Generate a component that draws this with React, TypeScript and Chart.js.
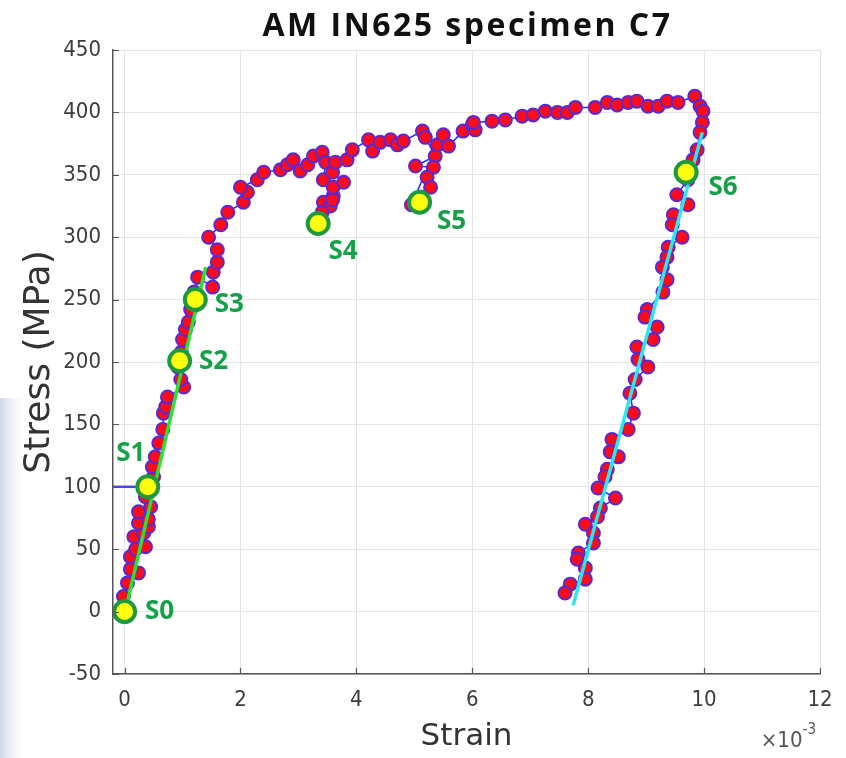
import React, { useEffect, useRef } from 'react';
import { Chart, registerables } from 'chart.js';

Chart.register(...registerables);

// Main measured curve (strain in 10^-3, stress in MPa), in path order
const strain = [
  0.0, -0.02, 0.05, 0.24, 0.1, 0.1, 0.19, 0.36, 0.16, 0.33, 0.41, 0.24, 0.41, 0.24, 0.45, 0.36, 0.42, 0.5, 0.48, 0.53,
  0.59, 0.66, 0.67, 0.71, 0.74, 1.02, 0.97, 0.92, 0.98, 1.0, 1.05, 1.1, 1.14, 1.2, 1.26, 1.52, 1.53, 1.6, 1.6, 1.45,
  1.66, 1.78, 2.05, 2.12, 2.0, 2.29, 2.4, 2.69, 2.81, 2.91, 3.03, 3.16, 3.26, 3.41, 3.47, 3.43, 3.6, 3.43, 3.55, 3.41,
  3.38, 3.59, 3.6, 3.78, 3.59, 3.64, 3.84, 3.93, 4.21, 4.28, 4.41, 4.59, 4.71, 4.81, 5.14, 5.19, 5.36, 5.02, 5.33, 5.22,
  5.28, 5.12, 4.95, 5.4, 5.5, 5.59, 5.84, 6.0, 6.05, 6.02, 6.34, 6.57, 6.86, 7.05, 7.26, 7.47, 7.64, 7.78, 8.12, 8.33,
  8.5, 8.69, 8.84, 9.03, 9.21, 9.36, 9.55, 9.84, 9.93, 9.98, 9.97, 9.93, 9.88, 9.81, 9.72, 9.53, 9.72, 9.47, 9.45, 9.62,
  9.38, 9.36, 9.28, 9.36, 9.29, 9.02, 8.98, 9.19, 9.12, 8.84, 8.86, 9.03, 8.81, 8.72, 8.78, 8.69, 8.41, 8.38, 8.52, 8.33,
  8.29, 8.17, 8.47, 8.21, 8.16, 7.95, 8.09, 8.09, 7.83, 7.81, 7.95, 7.95, 7.69, 7.6,
];
const stress = [
  0, 12, 23, 31, 34, 44, 50, 52, 60, 63, 68, 71, 74, 80, 84, 92, 100, 108, 116, 124,
  135, 146, 159, 164, 172, 180, 186, 196, 208, 218, 226, 232, 242, 256, 268, 260, 272, 280, 290, 300,
  310, 320, 328, 336, 340, 346, 352, 354, 358, 362, 353, 358, 365, 368, 360, 346, 333, 328, 325, 320,
  314, 330, 340, 344, 352, 360, 362, 370, 378, 369, 376, 378, 374, 377, 385, 380, 365, 357, 356, 348,
  340, 332, 326, 374, 382, 373, 385, 390, 386, 392, 393, 394, 397, 398, 401, 400, 400, 404, 404, 408,
  406, 408, 409, 405, 405, 409, 408, 413, 405, 401, 392, 384, 370, 362, 346, 334, 326, 318, 310, 300,
  292, 284, 276, 266, 256, 242, 236, 228, 218, 212, 202, 196, 186, 175, 159, 146, 138, 128, 124, 114,
  108, 99, 91, 83, 76, 70, 63, 55, 47, 42, 35, 26, 22, 15,
];

// Labelled states
const markerLabels = ['S0', 'S1', 'S2', 'S3', 'S4', 'S5', 'S6'];
const markerStrain = [0.0, 0.4, 0.95, 1.22, 3.34, 5.09, 9.69];
const markerStress = [0, 100, 201, 250, 311, 328, 352];

// Elastic loading fit (green) and unloading fit (cyan)
const fitStrain = [0.02, 1.4];
const fitStress = [2, 276];
const unloadStrain = [7.74, 9.97];
const unloadStress = [5, 384];

// Short horizontal reference at S1
const refStrain = [-0.2, 0.3];
const refStress = [100, 100];

// Axis ticks
const xTicks = [0, 2, 4, 6, 8, 10, 12];
const yTicks = [-50, 0, 50, 100, 150, 200, 250, 300, 350, 400, 450];

// Label placement relative to each marker (px)
const labelOffsets = [
  [35, 0], [-17, -33], [34, 1], [34, 5], [25, 28], [32, 19], [37, 15],
];

const toPts = (xs: number[], ys: number[]) => xs.map((x, i) => ({ x, y: ys[i] }));

const TICK_FONT = "'DejaVu Sans Condensed', 'Liberation Sans Narrow', 'DejaVu Sans', sans-serif";

export default function App() {
  const ref = useRef<HTMLCanvasElement | null>(null);

  useEffect(() => {
    document.body.style.margin = '0';
    const canvas = ref.current;
    if (!canvas) return;

    const decor = {
      id: 'decor',
      beforeDraw(chart: any) {
        const ctx = chart.ctx;
        ctx.save();
        const g = ctx.createLinearGradient(0, 0, 28, 0);
        g.addColorStop(0, 'rgba(205,213,228,1)');
        g.addColorStop(1, 'rgba(255,255,255,0)');
        ctx.fillStyle = g;
        ctx.fillRect(0, 398, 28, 360);
        ctx.restore();
      },
      afterDatasetsDraw(chart: any) {
        const ctx = chart.ctx;
        const xs = chart.scales.x;
        const ys = chart.scales.y;
        ctx.save();
        ctx.fillStyle = '#17a04a';
        ctx.font = "bold 26px 'Open Sans', 'Noto Sans', sans-serif";
        ctx.textAlign = 'center';
        ctx.textBaseline = 'middle';
        markerLabels.forEach((lab, i) => {
          const px = xs.getPixelForValue(markerStrain[i]) + labelOffsets[i][0];
          const py = ys.getPixelForValue(markerStress[i]) + labelOffsets[i][1];
          ctx.fillText(lab, px, py);
        });
        ctx.restore();
      },
      afterDraw(chart: any) {
        const ctx = chart.ctx;
        const a = chart.chartArea;
        const xs = chart.scales.x;
        const ys = chart.scales.y;
        ctx.save();
        // inward tick marks
        ctx.strokeStyle = '#555';
        ctx.lineWidth = 1.2;
        ctx.beginPath();
        xTicks.forEach((v) => {
          const px = Math.round(xs.getPixelForValue(v)) + 0.5;
          ctx.moveTo(px, a.bottom);
          ctx.lineTo(px, a.bottom - 6);
        });
        yTicks.forEach((v) => {
          const py = Math.round(ys.getPixelForValue(v)) + 0.5;
          ctx.moveTo(a.left, py);
          ctx.lineTo(a.left + 6, py);
        });
        ctx.stroke();

        ctx.fillStyle = '#111';
        ctx.font = "bold 32px 'Open Sans', 'DejaVu Sans', sans-serif";
        try { (ctx as any).letterSpacing = '2.5px'; } catch (e) { /* ignore */ }
        ctx.textAlign = 'center';
        ctx.textBaseline = 'middle';
        ctx.fillText('AM IN625 specimen C7', (a.left + a.right) / 2 + 1, 27);
        try { (ctx as any).letterSpacing = '0px'; } catch (e) { /* ignore */ }
        // exponent label
        ctx.fillStyle = '#555';
        ctx.textAlign = 'right';
        ctx.textBaseline = 'alphabetic';
        ctx.font = `15px ${TICK_FONT}`;
        ctx.fillText('-3', a.right - 4, 734);
        const w = ctx.measureText('-3').width;
        ctx.font = `22px ${TICK_FONT}`;
        ctx.fillText('×10', a.right - 4 - w, 747);
        ctx.restore();
      },
    };

    const chart = new Chart(canvas, {
      type: 'scatter',
      data: {
        datasets: [
          {
            label: 'S markers',
            data: toPts(markerStrain, markerStress),
            pointRadius: 10.5,
            pointBackgroundColor: '#ffff10',
            pointBorderColor: '#1e9a3c',
            pointBorderWidth: 4,
            showLine: false,
            order: 0,
          },
          {
            label: 'unload fit',
            data: toPts(unloadStrain, unloadStress),
            showLine: true,
            borderColor: '#2ee6ee',
            borderWidth: 3.5,
            pointRadius: 0,
            order: 1,
          },
          {
            label: 'elastic fit',
            data: toPts(fitStrain, fitStress),
            showLine: true,
            borderColor: '#2ee02e',
            borderWidth: 3.5,
            pointRadius: 0,
            order: 2,
          },
          {
            label: 'ref',
            data: toPts(refStrain, refStress),
            showLine: true,
            borderColor: '#4a4ae0',
            borderWidth: 2.5,
            pointRadius: 0,
            order: 3,
          },
          {
            label: 'measured',
            data: toPts(strain, stress),
            showLine: true,
            borderColor: '#2a2aff',
            borderWidth: 1.5,
            pointRadius: 6.5,
            pointBackgroundColor: '#ff0a1a',
            pointBorderColor: '#5a2ad0',
            pointBorderWidth: 2,
            order: 4,
          },
        ],
      },
      options: {
        responsive: false,
        animation: false,
        layout: { padding: { top: 50, right: 26, left: 0, bottom: 0 } },
        plugins: {
          legend: { display: false },
          tooltip: { enabled: false },
          title: { display: false },
        },
        scales: {
          x: {
            type: 'linear',
            min: -0.2,
            max: 12,
            afterBuildTicks: (s: any) => { s.ticks = xTicks.map((v) => ({ value: v })); },
            afterFit: (s: any) => { s.height = 84; },
            grid: { color: '#e4e4e4', lineWidth: 1, drawTicks: false },
            border: { color: '#555', width: 1.5 },
            ticks: { color: '#3c3c3c', font: { size: 22, family: TICK_FONT }, padding: 13, maxRotation: 0 },
            title: {
              display: true,
              text: 'Strain',
              color: '#333',
              font: { size: 31, family: "'DejaVu Sans', sans-serif" },
              padding: { top: 0, bottom: 2 },
            },
          },
          y: {
            type: 'linear',
            min: -50,
            max: 450,
            afterBuildTicks: (s: any) => { s.ticks = yTicks.map((v) => ({ value: v })); },
            afterFit: (s: any) => { s.width = 113; },
            grid: { color: '#e4e4e4', lineWidth: 1, drawTicks: false },
            border: { color: '#555', width: 1.5 },
            ticks: { color: '#3c3c3c', font: { size: 22, family: TICK_FONT }, padding: 12 },
            title: {
              display: true,
              text: 'Stress (MPa)',
              color: '#333',
              font: { size: 36, family: "'DejaVu Sans', sans-serif" },
              padding: { top: 18, bottom: 0 },
            },
          },
        },
      },
      plugins: [decor],
    } as any);

    return () => chart.destroy();
  }, []);

  return (
    <div style={{ width: 846, height: 758 }}>
      <canvas ref={ref} width={846} height={758} style={{ display: 'block', width: 846, height: 758 }} />
    </div>
  );
}
